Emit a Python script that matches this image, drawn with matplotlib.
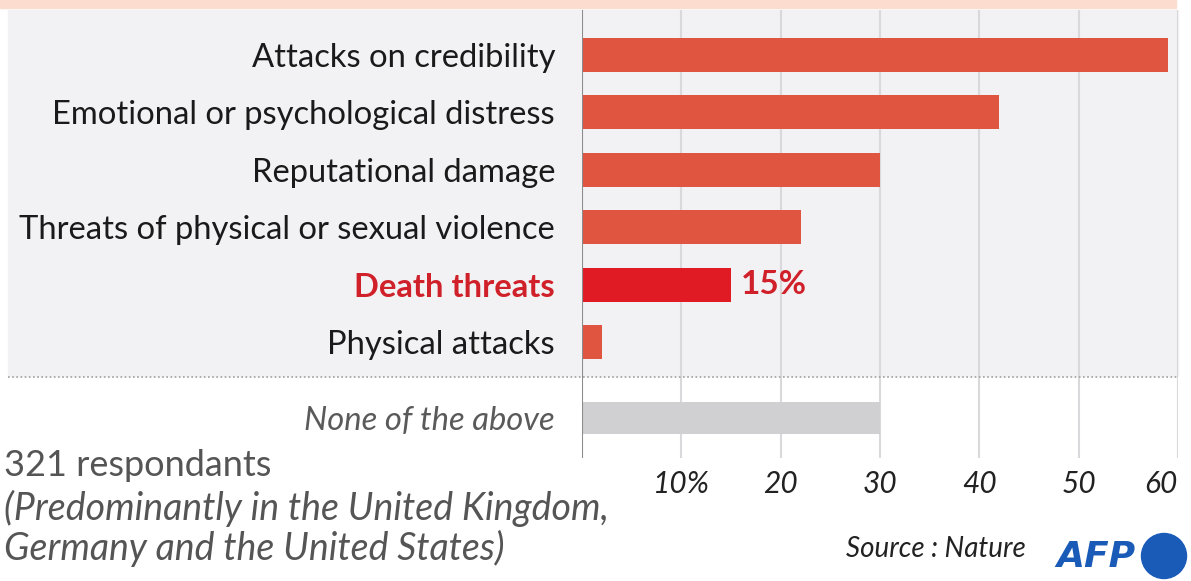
"""Online abuse of scientists — horizontal bar chart (AFP style)."""
import numpy as np
import matplotlib; matplotlib.use("Agg")
import matplotlib.pyplot as plt
from matplotlib.patches import Rectangle, Ellipse

categories = ["Attacks on credibility", "Emotional or psychological distress", "Reputational damage",
              "Threats of physical or sexual violence", "Death threats", "Physical attacks"]
values = [59, 42, 30, 22, 15, 2]
other_label = "None of the above"
other_value = 30
highlight = "Death threats"
xticks = [10, 20, 30, 40, 50, 60]
xticklabels = ["10%", "20", "30", "40", "50", "60"]

W, H = 1191, 581
RED, BAR, GREY_BAR = "#e01b24", "#e05540", "#d0d0d2"
BLUE = "#1a5bb8"
plt.rcParams["font.family"] = ["Lato", "DejaVu Sans"]

fig = plt.figure(figsize=(W / 100, H / 100), dpi=100)
fx = lambda px: px / W
fy = lambda py: 1 - py / H

# axes: x=0 at 582px, x=60 at 1178px, top 10px, bottom 458px
x0, x1, top, bot, row, first = 582, 1178, 10, 458, 57.4, 55
ax = fig.add_axes([fx(x0), fy(bot), fx(x1) - fx(x0), (bot - top) / H])
ax.set_facecolor("none")
ax.set_xlim(0, 60)
ax.set_ylim((bot - first) / row, -(first - top) / row)
for s in ax.spines.values():
    s.set_visible(False)

# background bands
fig.add_artist(Rectangle((0, fy(8)), fx(1176), 8 / H, transform=fig.transFigure,
                         color="#fddcd0", zorder=-2))
sep_y = len(values) - 1 + 0.605
fig.add_artist(Rectangle((fx(8), fy(376)), fx(x1) - fx(8), (376 - top) / H, transform=fig.transFigure,
                         color="#f2f2f4", zorder=-2))

ypos = np.arange(len(values))
none_y = len(values) - 1 + 1.326
colors = [RED if c == highlight else BAR for c in categories]
ax.barh(ypos, values, height=0.59, color=colors, zorder=2)
ax.barh(none_y, other_value, height=0.57, color=GREY_BAR, zorder=2)

for t in xticks:
    ax.axvline(t, color="#d9d9db", lw=1.5, zorder=1)
ax.axvline(0, color="#8c8c8c", lw=1.5, zorder=3)
ax.axhline(sep_y, xmin=(8 - x0) / (x1 - x0), xmax=1, color="#a0a0a0", lw=1.2,
           ls=(0, (1, 1.5)), clip_on=False, zorder=1)

ax.set_yticks(list(ypos) + [none_y], categories + [other_label])
ax.tick_params(axis="y", length=0, pad=19.4, labelsize=23.6, labelcolor="#1a1a1a")
for lab in ax.get_yticklabels():
    if lab.get_text() == highlight:
        lab.set_fontweight("bold"); lab.set_color("#d0202a")
    elif lab.get_text() == other_label:
        lab.set_style("italic"); lab.set_color("#5a5a5a")

ax.set_xticks(xticks, xticklabels)
ax.tick_params(axis="x", length=0, pad=8.5, labelsize=21.5, labelcolor="#222222")
for lab in ax.get_xticklabels():
    lab.set_style("italic")
ax.get_xticklabels()[-1].set_ha("right")

hi = categories.index(highlight)
ax.annotate(f"{values[hi]}%", (values[hi], hi), xytext=(7, 0), textcoords="offset points",
            va="center", ha="left", fontsize=24, fontweight="bold", color="#d0202a")

# notes
fig.text(fx(4), fy(466), "321 respondants", va="center", fontsize=26, color="#555555")
fig.text(fx(4), fy(508), "(Predominantly in the United Kingdom,", va="center", fontsize=27,
         style="italic", color="#555555")
fig.text(fx(4), fy(548), "Germany and the United States)", va="center", fontsize=27,
         style="italic", color="#555555")
fig.text(fx(1026), fy(549), "Source : Nature", ha="right", va="center", fontsize=20,
         style="italic", color="#222222")

# AFP logo
fig.text(fx(1056), fy(557), "AFP", ha="left", va="center", fontsize=26, fontweight="bold",
         style="italic", color=BLUE, family="DejaVu Sans")
fig.add_artist(Ellipse((fx(1164), fy(556)), 45 / W, 45 / H, transform=fig.transFigure, color=BLUE))

fig.savefig("out.png", dpi=100)
